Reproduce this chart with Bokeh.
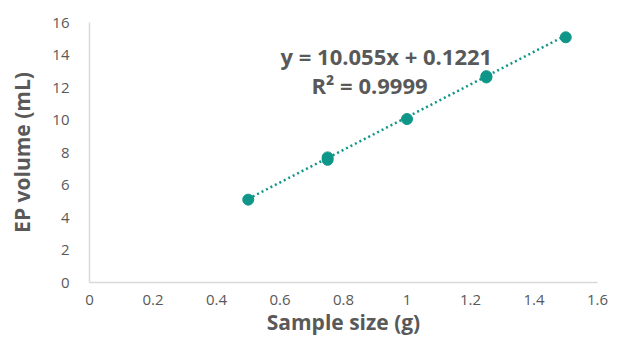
from bokeh.plotting import figure
from bokeh.models import Range1d, FixedTicker, Label, CustomJSTickFormatter
from bokeh.embed import file_html
from bokeh.resources import INLINE

sample_size = [0.5, 0.75, 0.75, 1.0, 1.25, 1.25, 1.5]
ep_volume = [5.1, 7.55, 7.7, 10.06, 12.62, 12.7, 15.09]
slope = 10.055
intercept = 0.1221
x_ticks = [0, 0.2, 0.4, 0.6, 0.8, 1.0, 1.2, 1.4, 1.6]
y_ticks = [0, 2, 4, 6, 8, 10, 12, 14, 16]
eq_text = "y = 10.055x + 0.1221"
r2_text = "R² = 0.9999"

teal = "#0E9688"
grey = "#595959"
font = "Open Sans"

p = figure(width=608, height=344, output_backend="svg", toolbar_location=None,
           x_range=Range1d(0, 1.6), y_range=Range1d(0, 16),
           min_border_left=89, min_border_right=11, min_border_top=22, min_border_bottom=62)
p.outline_line_color = None
p.grid.visible = False

fit_x = [min(sample_size), max(sample_size)]
fit_y = [slope * v + intercept for v in fit_x]
p.line(fit_x, fit_y, line_color=teal, line_width=2.5, line_dash="2 3")
p.scatter(sample_size, ep_volume, size=11, fill_color=teal, line_color=teal)

for ax in (p.xaxis[0], p.yaxis[0]):
    ax.axis_line_color = "#D9D9D9"
    ax.axis_line_width = 1.5
    ax.major_tick_line_color = None
    ax.minor_tick_line_color = None
    ax.major_tick_out = 0
    ax.major_tick_in = 0
    ax.minor_tick_out = 0
    ax.minor_tick_in = 0
    ax.major_label_text_color = grey
    ax.major_label_text_font = font
    ax.major_label_text_font_size = "15px"
    ax.axis_label_text_color = grey
    ax.axis_label_text_font = font
    ax.axis_label_text_font_style = "bold"
    ax.axis_label_text_font_size = "21px"

p.xaxis.ticker = FixedTicker(ticks=x_ticks)
p.yaxis.ticker = FixedTicker(ticks=y_ticks)
p.xaxis.formatter = CustomJSTickFormatter(code="return (Math.round(tick*10)/10).toString();")
p.xaxis.axis_label = "Sample size (g)"
p.yaxis.axis_label = "EP volume (mL)"
p.xaxis.major_label_standoff = 12
p.xaxis.axis_label_standoff = 0
p.yaxis.major_label_standoff = 20
p.yaxis.axis_label_standoff = 13

p.add_layout(Label(x=0.935, y=13.91, text=eq_text, text_align="center", text_baseline="middle",
                   text_font=font, text_font_style="bold", text_font_size="22px", text_color=grey))
p.add_layout(Label(x=0.882, y=12.15, text=r2_text, text_align="center", text_baseline="middle",
                   text_font=font, text_font_style="bold", text_font_size="22px", text_color=grey))

open("out.html", "w").write(file_html(p, INLINE))
